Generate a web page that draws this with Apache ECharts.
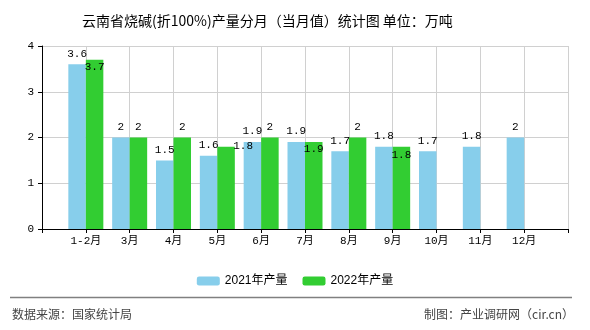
<!DOCTYPE html>
<html>
<head>
<meta charset="utf-8">
<script src="https://cdn.jsdelivr.net/npm/echarts@6/dist/echarts.min.js"></script>
<style>
html,body{margin:0;padding:0;background:#fff;}
#c{width:590px;height:330px;}
</style>
</head>
<body>
<div id="c"></div>
<script>
var titleText = '云南省烧碱(折100%)产量分月（当月值）统计图 单位：万吨';
var categories = ['1-2月','3月','4月','5月','6月','7月','8月','9月','10月','11月','12月'];
var series2021Name = '2021年产量';
var series2022Name = '2022年产量';
var values2021 = [3.6, 2, 1.5, 1.6, 1.9, 1.9, 1.7, 1.8, 1.7, 1.8, 2];
var values2022 = [3.7, 2, 2, 1.8, 2, 1.9, 2, 1.8, null, null, null];
var yTicks = [0, 1, 2, 3, 4];
var sourceText = '数据来源：国家统计局';
var creditText = '制图：产业调研网（cir.cn）';

var mono = "'Liberation Mono','Noto Sans CJK SC',monospace";
var cjk = "'Noto Sans CJK SC','Noto Sans',sans-serif";

// padded axis so categories sit on ticks with half-gaps at both ends
var axisData = [''].concat(categories).concat(['']);
function pad(arr){ return [null].concat(arr).concat([null]); }

// label adjustments for 2022 (overlap shifts in original), keyed by category index
var shift2022 = {0:[0,18], 3:[17,10], 5:[0,18], 7:[0,19]};
function build2022(){
  return pad(values2022).map(function(v, i){
    var k = i - 1;
    if (v == null) return null;
    if (shift2022[k]) return {value: v, label: {offset: shift2022[k]}};
    return v;
  });
}

var chart = echarts.init(document.getElementById('c'), null, {renderer:'canvas'});
chart.setOption({
  animation: false,
  backgroundColor: '#fff',
  title: {
    text: titleText, left: 77, top: 9,
    textStyle: {fontSize: 14, fontWeight: 'normal', color: '#000', fontFamily: cjk}
  },
  legend: {
    data: [series2021Name, series2022Name],
    left: 'center', top: 270,
    itemWidth: 23, itemHeight: 9, itemGap: 15,
    textStyle: {fontSize: 12, color: '#000', fontFamily: "'Liberation Sans','Noto Sans CJK SC',sans-serif"}
  },
  grid: {left: 42, right: 22, top: 46, bottom: 101, containLabel: false},
  xAxis: {
    type: 'category', data: axisData, boundaryGap: false,
    axisLine: {lineStyle: {color: '#000', width: 1}},
    axisTick: {show: true, interval: 0, length: 4, lineStyle: {color: '#000'}},
    axisLabel: {interval: 0, color: '#000', fontSize: 11, fontFamily: mono, margin: 7},
    splitLine: {show: true, interval: 0, lineStyle: {color: '#d0d0d0', width: 1}}
  },
  yAxis: {
    type: 'value', min: yTicks[0], max: yTicks[yTicks.length-1], interval: 1,
    axisLine: {show: true, lineStyle: {color: '#000', width: 1}},
    axisTick: {show: true, length: 4, lineStyle: {color: '#000'}},
    axisLabel: {color: '#000', fontSize: 11, fontFamily: mono, margin: 8},
    splitLine: {show: true, lineStyle: {color: '#d0d0d0', width: 1}}
  },
  series: [
    {
      name: series2021Name, type: 'bar', data: pad(values2021),
      barWidth: 17.5, barGap: '0%',
      itemStyle: {color: '#87ceeb'},
      label: {show: true, position: 'top', distance: 5, color: '#000', fontSize: 11, fontFamily: mono}
    },
    {
      name: series2022Name, type: 'bar', data: build2022(),
      barWidth: 17.5, barGap: '0%',
      itemStyle: {color: '#32cd32'},
      label: {show: true, position: 'top', distance: 5, color: '#000', fontSize: 11, fontFamily: mono}
    }
  ],
  graphic: [
    {type: 'line', shape: {x1: 10, y1: 297.5, x2: 572, y2: 297.5}, style: {stroke: '#808080', lineWidth: 1.3}},
    {type: 'text', left: 12, top: 308, style: {text: sourceText, fontSize: 12, fill: '#444', fontFamily: cjk}},
    {type: 'text', right: 16, top: 308, style: {text: creditText, fontSize: 12, fill: '#444', fontFamily: cjk}}
  ]
});
</script>
</body>
</html>
